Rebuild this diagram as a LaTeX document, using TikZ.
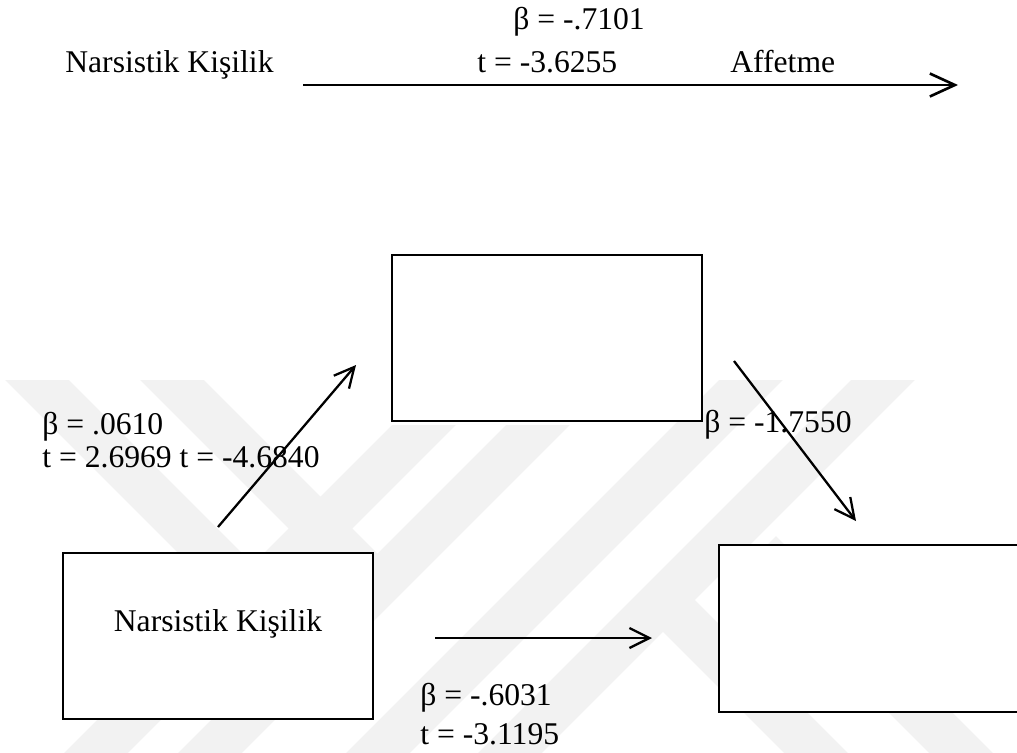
\documentclass[tikz,border=0pt]{standalone}
\usepackage{fontspec}
\setmainfont{Liberation Serif}
\usetikzlibrary{arrows.meta}

\tikzstyle{var box}=[draw, fill=white, line width=0.7pt, minimum width=6.2cm, minimum height=3.32cm, inner sep=0pt]
\tikzstyle{lbl}=[font=\fontsize{18}{22}\selectfont, inner sep=0pt, anchor=base west]
\tikzstyle{arr}=[line width=1.3pt, -{Straight Barb[length=4mm, width=4mm]}]
\tikzstyle{wmark}=[line width=0.9cm, draw=black!5]

\begin{document}
\begin{tikzpicture}[x=0.02cm, y=-0.02cm]
		\clip (0,0) rectangle (1017,752);

		\begin{scope}
			\clip (0,380) rectangle (1017,752);
			\foreach \xa/\ya/\xb/\yb in {-13/330/253/596, 122/330/390/598, 801/330/361/770, 933/330/493/770, 649/586/833/770, 760/552/978/770}
				\draw[wmark] (\xa,\ya) -- (\xb,\yb);
		\end{scope}
		\begin{scope}
			\clip (0,425) rectangle (1017,752);
			\foreach \xa/\ya/\xb/\yb in {79/770/474/375, 193/770/588/375}
				\draw[wmark] (\xa,\ya) -- (\xb,\yb);
		\end{scope}

		\node [lbl] (direct) at (65,72) {Narsistik Kişilik};
		\node [lbl] (bc) at (513,29) {β = -.7101};
		\node [lbl] (tc) at (477,72) {t = -3.6255};
		\node [lbl] (aff) at (730,72) {Affetme};
		\coordinate (c0) at (303,85);
		\coordinate (c1) at (958,85);
		\draw [arr, line width=1.5pt, -{Straight Barb[length=5mm, width=4.6mm]}] (c0) -- (c1);

		\node [var box] (M) at (547,338) {};
		\node [var box] (X) at (218,636) {};
		\node [var box, minimum width=6.6cm, minimum height=3.34cm] (Y) at (884,628.5) {};
		\node [font=\fontsize{18}{22}\selectfont, inner sep=0pt] (Xname) at (218,624) {Narsistik Kişilik};

		\node [lbl] (ba) at (42,434) {β = .0610};
		\node [lbl] (ta) at (42,467) {t = 2.6969 t = -4.6840};
		\node [lbl] (bb) at (704,432) {β = -1.7550};
		\node [lbl] (bcp) at (420,705) {β = -.6031};
		\node [lbl] (tcp) at (420,744) {t = -3.1195};

		\coordinate (a0) at (218,527);
		\coordinate (a1) at (356,365);
		\coordinate (b0) at (734,361);
		\coordinate (b1) at (856,521);
		\coordinate (p0) at (435,638);
		\coordinate (p1) at (652,638);
		\draw [arr] (a0) -- (a1);
		\draw [arr] (b0) -- (b1);
		\draw [arr] (p0) -- (p1);
	\end{tikzpicture}
\end{document}
